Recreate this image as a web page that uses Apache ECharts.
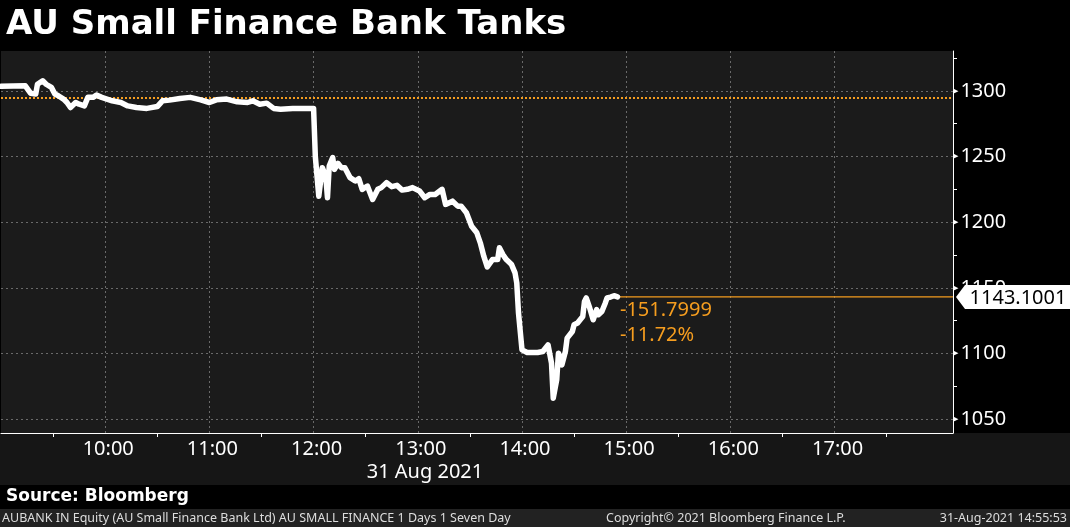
<!DOCTYPE html>
<html>
<head>
<meta charset="utf-8">
<script src="https://cdn.jsdelivr.net/npm/echarts@6/dist/echarts.min.js"></script>
<style>
html,body{margin:0;padding:0;background:#000;}
#c{width:1070px;height:527px;}
</style>
</head>
<body>
<div id="c"></div>
<script>
// ---- data ----
const titleText = 'AU Small Finance Bank Tanks';
const dateLabel = '31 Aug 2021';
const sourceText = 'Source: Bloomberg';
const footerLeft = 'AUBANK IN Equity (AU Small Finance Bank Ltd) AU SMALL FINANCE 1 Days 1 Seven Day';
const footerMid = 'Copyright\u00A9 2021 Bloomberg Finance L.P.';
const footerRight = '31-Aug-2021 14:55:53';

const times = ['09:00','09:14','09:17','09:20','09:21','09:24','09:26','09:29','09:31','09:33',
  '09:36','09:38','09:40','09:43','09:45','09:48','09:50','09:53','09:55','09:58',
  '10:01','10:04','10:09','10:13','10:18','10:24','10:30','10:33','10:37','10:43',
  '10:49','10:55','11:00','11:04','11:10','11:16','11:22','11:25','11:29','11:33',
  '11:37','11:41','11:48','11:56','12:00','12:01','12:03','12:05','12:07','12:08',
  '12:09','12:11','12:12','12:14','12:16','12:18','12:21','12:24','12:26','12:28',
  '12:31','12:34','12:37','12:39','12:42','12:45','12:48','12:51','12:54','12:57',
  '13:01','13:04','13:07','13:10','13:14','13:16','13:17','13:20','13:23','13:25',
  '13:28','13:31','13:34','13:36','13:38','13:40','13:43','13:46','13:47','13:49',
  '13:51','13:54','13:56','13:57','13:58','14:00','14:03','14:09','14:12','14:15',
  '14:17','14:18','14:20','14:21','14:23','14:25','14:26','14:29','14:30','14:32',
  '14:35','14:36','14:37','14:39','14:41','14:43','14:44','14:46','14:48','14:49',
  '14:51','14:53','14:55'];
const prices = [1303.4,1303.8,1298.2,1297.5,1305.0,1307.6,1305.0,1302.6,1297.5,1296.2,
  1293.7,1291.1,1287.3,1291.1,1289.8,1288.5,1295.0,1295.0,1296.7,1295.0,
  1293.7,1292.4,1291.1,1288.5,1287.3,1286.6,1288.0,1292.4,1292.9,1294.2,
  1295.0,1293.1,1291.1,1293.1,1293.7,1291.6,1291.1,1292.4,1289.8,1290.6,
  1286.6,1286.0,1286.6,1286.6,1286.6,1250.0,1219.8,1241.5,1235.1,1218.6,
  1242.7,1249.2,1240.2,1244.8,1241.5,1241.5,1233.9,1231.3,1233.1,1225.0,
  1227.5,1217.3,1225.0,1226.3,1230.1,1227.0,1228.0,1224.4,1225.0,1226.3,
  1223.7,1218.6,1221.1,1221.1,1225.0,1213.5,1212.2,1216.0,1212.2,1212.2,
  1207.2,1196.9,1191.9,1184.3,1174.1,1165.9,1171.5,1171.5,1180.5,1175.3,
  1171.5,1167.7,1161.4,1153.7,1130.8,1102.8,1100.8,1100.8,1101.5,1106.6,
  1092.7,1066.0,1080.0,1100.3,1091.4,1101.5,1111.7,1116.8,1121.9,1123.2,
  1128.2,1139.7,1142.3,1134.7,1125.7,1133.4,1129.5,1132.0,1138.5,1142.3,
  1143.0,1144.0,1143.1001];
const prevClose = 1294.9;
const xHourTicks = ['10:00','11:00','12:00','13:00','14:00','15:00','16:00','17:00'];
const xHalfTicks = ['09:30','10:30','11:30','12:30','13:30','14:30','15:30','16:30','17:30'];
const yLabelTicks = [1050,1100,1150,1200,1250,1300];
const yMinorTicks = [1075,1125,1175,1225,1275,1325];

// ---- build chart ----
const toMin = t => { const [h,m] = t.split(':').map(Number); return h*60+m; };
const fmtMin = v => { const h = Math.floor(v/60), m = Math.round(v%60); return (h<10?'0':'')+h+':'+(m<10?'0':'')+m; };
const seriesData = times.map((t,i) => [toMin(t), prices[i]]);
const lastPrice = prices[prices.length-1];
const lastTime = toMin(times[times.length-1]);
const change = lastPrice - prevClose;
const pct = change / prevClose * 100;
const changeText = change.toFixed(4) + '\n' + pct.toFixed(2) + '%';

const X_MIN = 540, X_MAX = 1088.2;
const Y_MIN = 1039.5, Y_MAX = 1330.3;
const ORANGE = '#f59d1f';
const FONT = 'Noto Sans';

const chart = echarts.init(document.getElementById('c'), null, {renderer: 'canvas'});
chart.setOption({
  backgroundColor: '#000',
  animation: false,
  title: {
    text: titleText, left: 1, top: 3,
    textStyle: {color: '#fff', fontSize: 34, fontWeight: 'bold', fontFamily: 'DejaVu Sans'}
  },
  graphic: [
    {type: 'rect', shape: {x: 0, y: 433, width: 1070, height: 52}, style: {fill: '#161616'}, z: -10, silent: true},
    {type: 'rect', shape: {x: 0, y: 509, width: 1070, height: 18}, style: {fill: '#222'}, z: -10, silent: true},
    {type: 'text', x: 425, y: 472, style: {text: dateLabel, fill: '#fff', font: '20px "Noto Sans"', textAlign: 'center', textVerticalAlign: 'middle'}},
    {type: 'text', x: 6, y: 497, style: {text: sourceText, fill: '#fff', font: 'bold 17px "DejaVu Sans"', textAlign: 'left', textVerticalAlign: 'middle'}},
    {type: 'text', x: 2, y: 518, style: {text: footerLeft, fill: '#ddd', font: '12.5px "Noto Sans"', textAlign: 'left', textVerticalAlign: 'middle'}},
    {type: 'text', x: 606, y: 518, style: {text: footerMid, fill: '#ddd', font: '12.5px "Noto Sans"', textAlign: 'left', textVerticalAlign: 'middle'}},
    {type: 'text', x: 1067, y: 518, style: {text: footerRight, fill: '#ddd', font: '12.5px "Noto Sans"', textAlign: 'right', textVerticalAlign: 'middle'}}
  ],
  grid: {left: 1, top: 51, width: 952, height: 382, show: true, backgroundColor: '#1b1b1b', borderWidth: 0},
  xAxis: [{
    type: 'value', min: X_MIN, max: X_MAX,
    axisLine: {show: true, onZero: false, lineStyle: {color: '#fff', width: 1}},
    axisTick: {show: false, customValues: xHourTicks.map(toMin)},
    splitLine: {show: true, lineStyle: {color: '#6a6a6a', type: [2, 3], width: 1}},
    axisLabel: {
      customValues: xHourTicks.map(toMin),
      color: '#fff', fontSize: 20, fontFamily: FONT, margin: 6, padding: [0, 0, 0, 6],
      formatter: v => fmtMin(v)
    }
  }, {
    type: 'value', min: X_MIN, max: X_MAX, position: 'bottom',
    axisLine: {show: false}, splitLine: {show: false}, axisLabel: {show: false},
    axisTick: {show: true, length: 4, lineStyle: {color: '#fff'}, customValues: xHalfTicks.map(toMin)}
  }],
  yAxis: [{
    type: 'value', position: 'right', min: Y_MIN, max: Y_MAX,
    axisLine: {show: true, lineStyle: {color: '#fff', width: 1}},
    axisTick: {show: false, customValues: yLabelTicks},
    splitLine: {show: true, lineStyle: {color: '#6a6a6a', type: [2, 3], width: 1}},
    axisLabel: {
      customValues: yLabelTicks,
      margin: 0, color: '#fff', fontFamily: FONT,
      formatter: v => '{t|\u25B6}{v|' + v + '}',
      rich: {
        t: {fontSize: 7, color: '#fff', padding: [0, 2, 0, 0], fontFamily: 'DejaVu Sans'},
        v: {fontSize: 20, color: '#fff', fontFamily: FONT}
      }
    }
  }, {
    type: 'value', position: 'right', min: Y_MIN, max: Y_MAX,
    axisLine: {show: false}, splitLine: {show: false}, axisLabel: {show: false},
    axisTick: {show: true, length: 4, lineStyle: {color: '#fff'}, customValues: yMinorTicks}
  }],
  series: [{
    type: 'line', xAxisIndex: 0, yAxisIndex: 0,
    data: [[lastTime, lastPrice], [X_MAX, lastPrice]],
    symbol: 'none', showSymbol: false, silent: true,
    itemStyle: {color: ORANGE},
    lineStyle: {color: ORANGE, width: 1.2, type: 'solid'},
    z: 3
  }, {
    type: 'line', xAxisIndex: 0, yAxisIndex: 0,
    data: seriesData, symbol: 'none', showSymbol: false,
    itemStyle: {color: '#fff'},
    lineStyle: {color: '#fff', width: 5.5, join: 'round', cap: 'round'},
    z: 5,
    markLine: {
      silent: true, symbol: 'none', animation: false,
      label: {show: false},
      data: [
        {yAxis: prevClose, lineStyle: {color: ORANGE, type: [2, 2], width: 2}}
      ]
    },
    markPoint: {
      silent: true, animation: false,
      data: [{
        coord: [X_MAX, lastPrice],
        symbol: 'path://M0,12 L9,0 L116,0 L116,24 L9,24 Z',
        symbolSize: [116, 24], symbolOffset: [61, 0],
        itemStyle: {color: '#fff'},
        label: {show: true, position: 'inside', offset: [4, 1], formatter: String(lastPrice), color: '#000', fontSize: 20, fontFamily: FONT}
      }, {
        coord: [lastTime, lastPrice],
        symbol: 'circle', symbolSize: 1,
        itemStyle: {color: 'rgba(0,0,0,0)'},
        label: {show: true, position: 'right', distance: 2, offset: [0, 26],
          formatter: changeText, color: ORANGE, fontSize: 20, lineHeight: 25, fontFamily: FONT, align: 'left'}
      }]
    }
  }]
});
</script>
</body>
</html>
